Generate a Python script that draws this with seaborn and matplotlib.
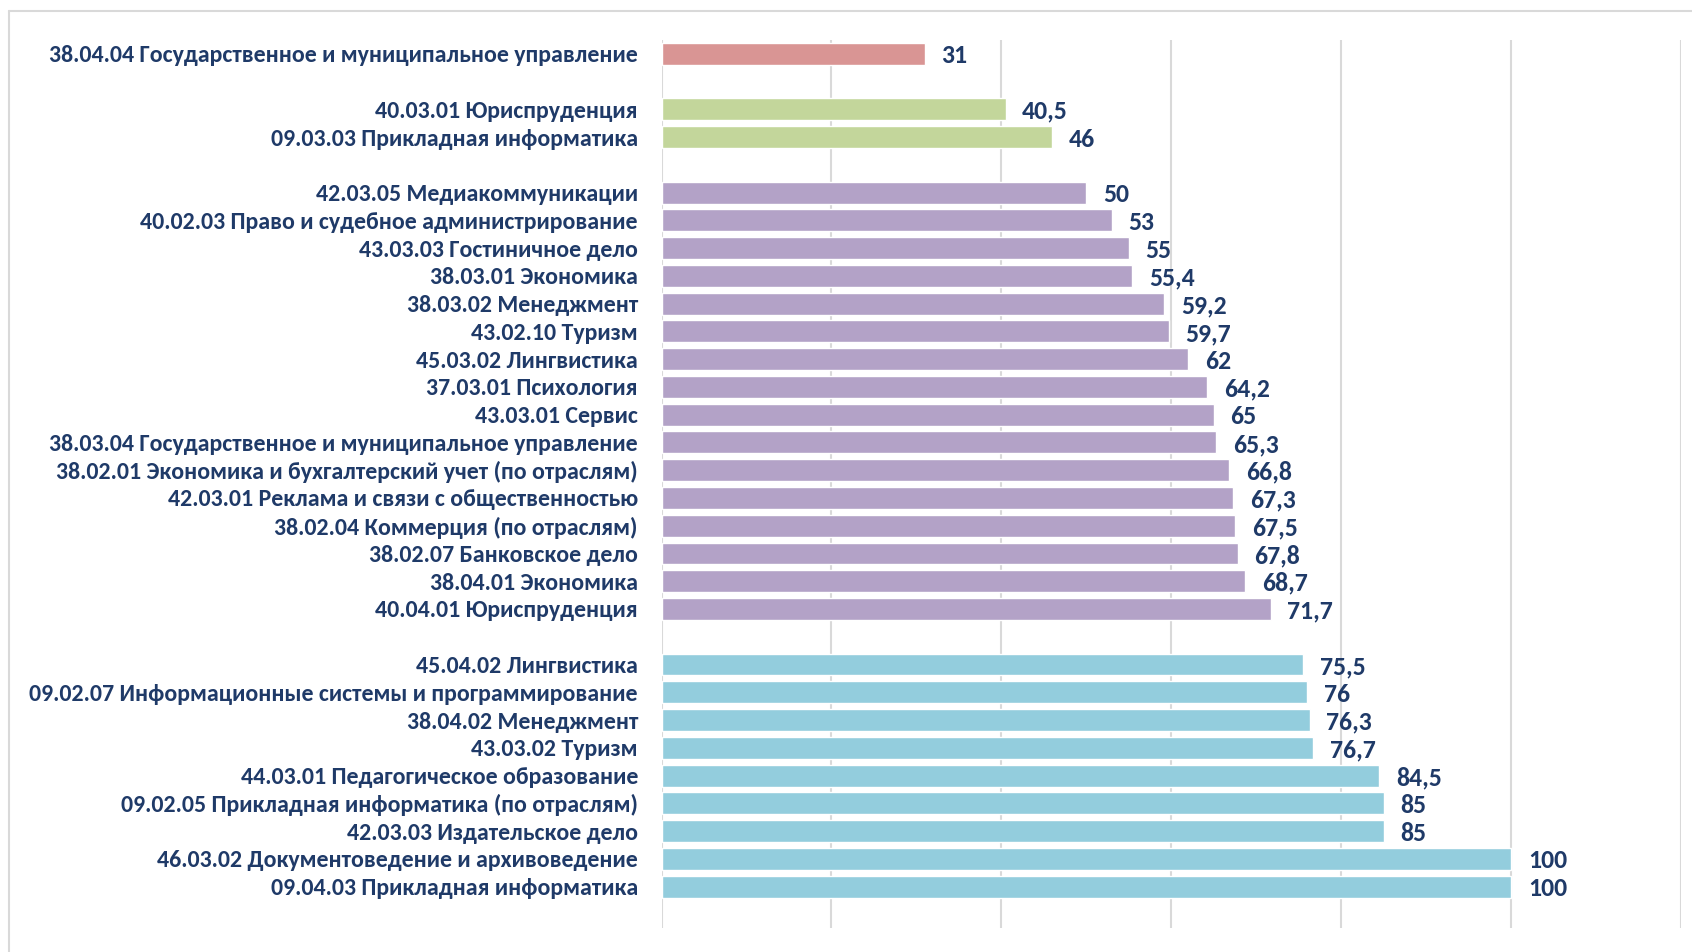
import seaborn as sns
import pandas as pd
import matplotlib.pyplot as plt
from matplotlib import font_manager
from matplotlib.lines import Line2D

sns.set_style("white")
installed = {f.name for f in font_manager.fontManager.ttflist}
if "Carlito" in installed:
    plt.rcParams['font.family'] = ['Carlito', 'DejaVu Sans']
    label_size, value_size, stretch = 17.2, 18.5, "normal"
else:
    plt.rcParams['font.family'] = ['DejaVu Sans']
    label_size, value_size, stretch = 12, 14, "condensed"

# groups top to bottom, gaps between groups
labels_red = ["38.04.04 Государственное и муниципальное управление"]
values_red = [31]

labels_green = ["40.03.01 Юриспруденция", "09.03.03 Прикладная информатика"]
values_green = [40.5, 46]

labels_purple = [
    "42.03.05 Медиакоммуникации",
    "40.02.03 Право и судебное администрирование",
    "43.03.03 Гостиничное дело",
    "38.03.01 Экономика",
    "38.03.02 Менеджмент",
    "43.02.10 Туризм",
    "45.03.02 Лингвистика",
    "37.03.01 Психология",
    "43.03.01 Сервис",
    "38.03.04 Государственное и муниципальное управление",
    "38.02.01 Экономика и бухгалтерский учет (по отраслям)",
    "42.03.01 Реклама и связи с общественностью",
    "38.02.04 Коммерция (по отраслям)",
    "38.02.07 Банковское дело",
    "38.04.01 Экономика",
    "40.04.01 Юриспруденция",
]
values_purple = [50, 53, 55, 55.4, 59.2, 59.7, 62, 64.2, 65, 65.3, 66.8, 67.3, 67.5, 67.8, 68.7, 71.7]

labels_blue = [
    "45.04.02 Лингвистика",
    "09.02.07 Информационные системы и программирование",
    "38.04.02 Менеджмент",
    "43.03.02 Туризм",
    "44.03.01 Педагогическое образование",
    "09.02.05 Прикладная информатика (по отраслям)",
    "42.03.03 Издательское дело",
    "46.03.02 Документоведение и архивоведение",
    "09.04.03 Прикладная информатика",
]
values_blue = [75.5, 76, 76.3, 76.7, 84.5, 85, 85, 100, 100]

colors = {"red": "#D99594", "green": "#C3D69B", "purple": "#B3A2C7", "blue": "#93CDDD"}
text_color = "#1F3A68"

groups = [("red", labels_red, values_red), ("green", labels_green, values_green),
          ("purple", labels_purple, values_purple), ("blue", labels_blue, values_blue)]

rows = []
order = []
for i, (g, labs, vals) in enumerate(groups):
    if i > 0:
        order.append(" " * i)  # empty slot between groups
    for lab, v in zip(labs, vals):
        rows.append({"name": lab, "value": v, "group": g})
        order.append(lab)
data = pd.DataFrame(rows)

fig = plt.figure(figsize=(16.92, 9.52), dpi=100)
ax = fig.add_axes([0.391, 0.025, 0.6025, 0.933])

sns.barplot(data=data, y="name", x="value", hue="group", order=order,
            palette=colors, dodge=False, width=0.79, orient="h",
            legend=False, saturation=1, ax=ax)

for c in ax.containers:
    texts = ax.bar_label(c, fmt=lambda v: f"{v:g}".replace(".", ","), padding=12,
                         fontsize=value_size, fontweight="bold", color=text_color,
                         fontstretch=stretch)
    for t in texts:
        t.set_va("center_baseline")

ax.set_xlim(0, 120)
ax.set_ylim(len(order) + 0.5, -0.5)
ax.set_xticks(range(0, 121, 20))
ax.set_xticklabels([])
ax.grid(axis="x", color="#D9D9D9", linewidth=1.5)
ax.set_axisbelow(True)
ax.set_xlabel("")
ax.set_ylabel("")
sns.despine(ax=ax, left=True, bottom=True)
ax.tick_params(axis="both", length=0)
ax.tick_params(axis="y", pad=17)
for t in ax.get_yticklabels():
    t.set_fontsize(label_size)
    t.set_fontweight("bold")
    t.set_fontstretch(stretch)
    t.set_color(text_color)

# outer frame
fig.add_artist(Line2D([0.0053, 1], [0.9884, 0.9884], color="#D9D9D9", linewidth=1.5, transform=fig.transFigure))
fig.add_artist(Line2D([0.0053, 0.0053], [0, 0.9884], color="#D9D9D9", linewidth=1.5, transform=fig.transFigure))

plt.savefig("out.png", dpi=100)
